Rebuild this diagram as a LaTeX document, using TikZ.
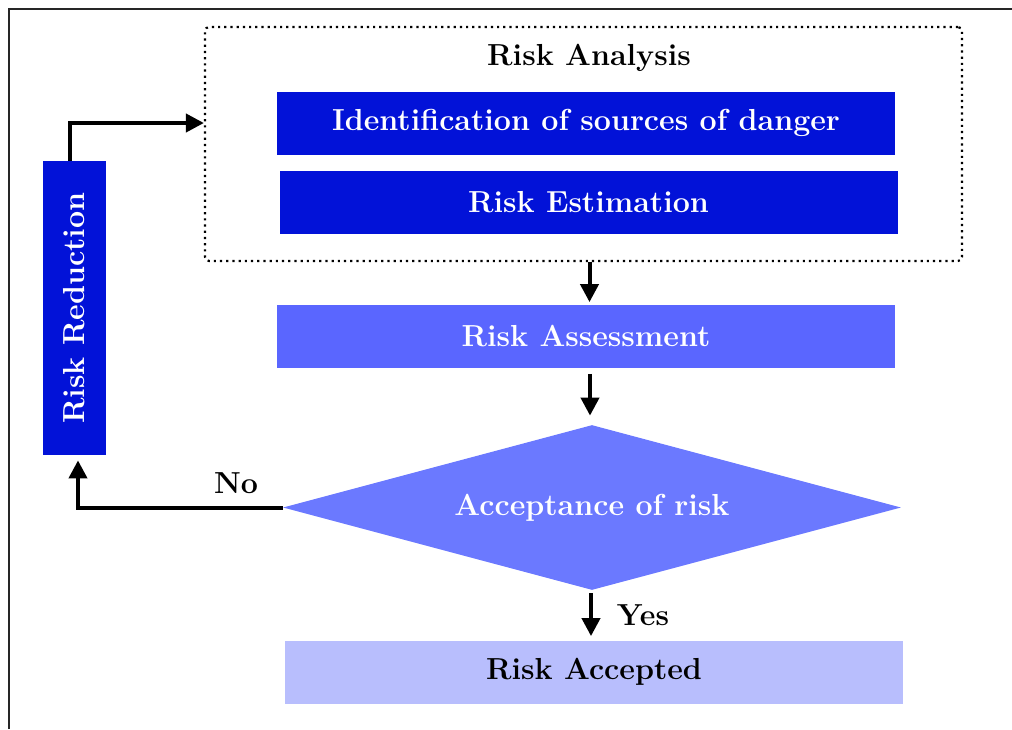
\documentclass[tikz,border=0pt]{standalone}
\usepackage{xcolor}
\usetikzlibrary{shapes.geometric,arrows.meta}
\definecolor{deepblue}{RGB}{2,18,216}
\definecolor{midblue}{RGB}{90,102,255}
\definecolor{diablue}{RGB}{107,121,255}
\definecolor{paleblue}{RGB}{184,190,253}
\tikzset{
 lbl/.style={font=\fontsize{15.2}{18}\selectfont\bfseries},
 stepbox/.style={lbl, text=white, inner sep=0pt, minimum width=309pt, minimum height=31.5pt},
 flow/.style={line width=2pt, -{Triangle[length=9pt,width=9pt]}}
}
\begin{document}
\begin{tikzpicture}[x=0.5pt,y=-0.5pt]
 \useasboundingbox (0,0) rectangle (1012,729);
 \draw[line width=1pt, black!85] (9,729) -- (9,9) -- (1012,9);
 % analysis block
 \node[draw, dotted, line width=1.1pt, rounded corners=2pt, minimum width=378.5pt, minimum height=117pt] (ana) at (583.5,144) {};
 \node[lbl] (anatitle) at (589,58) {Risk Analysis};
 \node[stepbox, fill=deepblue] (ident) at (586,123) {Identification of sources of danger};
 \node[stepbox, fill=deepblue] (estim) at (588.5,202) {Risk Estimation};
 \node[stepbox, fill=midblue] (assess) at (586,336) {Risk Assessment};
 \node[diamond, aspect=3.75, fill=diablue, inner sep=0pt, minimum width=309pt, minimum height=82.5pt, lbl, text=white] (accept) at (592,507.5) {Acceptance of risk};
 \node[stepbox, fill=paleblue, text=black] (done) at (594,672) {Risk Accepted};
 \node[stepbox, fill=deepblue, rotate=90, minimum width=147pt] (reduce) at (74,308) {Risk Reduction};
 % connectors
 \draw[flow, shorten >=1pt] ([xshift=3pt]ana.south) -- ([xshift=3pt]ana.south |- assess.north);
 \draw[flow, shorten <=3pt, shorten >=4.5pt] ([xshift=2pt]assess.south) -- ([xshift=2pt]assess.south |- accept.north);
 \draw[flow, shorten <=1.5pt, shorten >=2pt] ([xshift=-0.5pt]accept.south) -- ([xshift=-0.5pt]accept.south |- done.north);
 \draw[flow, shorten >=2.5pt] (accept.west) -| ([xshift=2pt]reduce.west);
 \draw[flow] ([xshift=-2pt]reduce.east) |- ([yshift=10.5pt]ana.west);
 \node[lbl] (no) at (236,483) {No};
 \node[lbl] (yes) at (643,615) {Yes};
\end{tikzpicture}
\end{document}
